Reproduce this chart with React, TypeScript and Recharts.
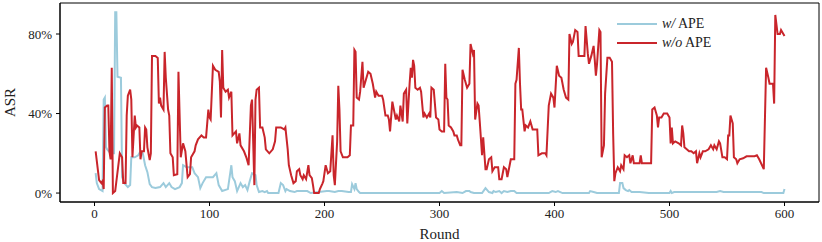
import React from 'react';
import { LineChart, Line, XAxis, YAxis, ReferenceArea } from 'recharts';

// [round, ASR %]
const withApe: [number, number][] = [
  [1, 10], [2, 5], [4, 2], [7, 1], [8, 47], [9, 48], [10, 23], [11, 22], [14, 20], [17, 20], [18, 91], [19, 91],
  [20, 58.5], [23, 58], [24, 8], [26, 5], [29, 3], [31, 4], [32, 18], [35, 18], [38, 19], [40, 21], [42, 20],
  [44, 14], [46, 10.5], [48, 4.5], [50, 3], [53, 2.5], [57, 3], [60, 5], [62, 3], [65, 5], [67, 3], [70, 2],
  [74, 3], [76, 5], [77, 14], [80, 13], [85, 13], [87, 10], [90, 8], [92, 2.5], [94, 5], [97, 8], [103, 8],
  [106, 10], [108, 4], [111, 1], [116, 2], [119, 14], [120, 8], [122, 6], [124, 1], [127, 5], [129, 3], [131, 4],
  [133, 1.5], [135, 6], [137, 10], [140, 9], [141, 4], [143, 0.5], [146, 1], [148, 0.5], [150, 1], [151, 0],
  [160, 0], [162, 5], [164, 4], [166, 1], [167, 2], [170, 1], [174, 0.5], [176, 1], [185, 1], [188, 0],
  [195, 0.5], [202, 1], [204, 1], [209, 0.5], [212, 1], [215, 1], [221, 0.5], [223, 0.5], [224, 4.5], [226, 2],
  [227, 5], [228, 2], [230, 0.5], [231, 0], [300, 0], [302, 1], [304, 0], [315, 0.5], [320, 0], [323, 1],
  [326, 1], [327, 0.5], [330, 0], [337, 0], [340, 2.5], [343, 0.5], [346, 0], [347, 1], [349, 0.5], [352, 1],
  [354, 0], [356, 1], [359, 0.5], [362, 1], [365, 1], [367, 0], [395, 0], [398, 1], [401, 0.5], [403, 1],
  [405, 0.5], [407, 0], [430, 0], [431, 1], [434, 0.5], [437, 0], [456, 0], [457, 5], [459, 5], [460, 2.5],
  [462, 1.5], [464, 1], [465, 1.5], [467, 0.5], [474, 0.5], [482, 0], [500, 0], [501, 1], [502, 0], [504, 0.5],
  [541, 0.5], [544, 1], [547, 0.5], [558, 0.5], [580, 0.5], [582, 0], [599, 0], [600, 2],
];

const withoutApe: [number, number][] = [
  [1, 21], [4, 6.5], [6, 5], [7, 6], [8, 2], [9, 43], [11, 44], [12, 44], [13, 21], [14, 17], [15, 63], [16, 0],
  [18, 1], [22, 20], [24, 18], [25, 5], [27, 5], [28, 39], [29, 49], [31, 52], [32, 47], [33, 18], [35, 39],
  [36, 33], [37, 34], [39, 33], [40, 17], [41, 21], [43, 21], [44, 33], [45, 32], [46, 23], [48, 16.6], [49, 20],
  [50, 69], [53, 69], [55, 68], [56, 45], [57, 48], [58, 44], [60, 42], [61, 71], [62, 58], [64, 42], [65, 39],
  [66, 20], [68, 18], [69, 9], [72, 9.5], [73, 61], [75, 18], [77, 25], [79, 21], [81, 8], [83, 9.5], [84, 18],
  [87, 21], [88, 24], [90, 27], [93, 29], [95, 28], [97, 28], [99, 42], [100, 38], [101, 37], [103, 64],
  [105, 62], [108, 61], [109, 56], [110, 38], [111, 72], [112, 53], [114, 51], [116, 52], [117, 48], [119, 51],
  [120, 29], [123, 31], [124, 25], [126, 30], [127, 24], [130, 21], [132, 18], [134, 14], [136, 44], [137, 47],
  [139, 4], [140, 47], [141, 52], [143, 53], [144, 33], [146, 33], [148, 28], [149, 22], [152, 20], [155, 22],
  [157, 26], [158, 33], [162, 33], [165, 32], [166, 33], [168, 22], [169, 14], [171, 9], [173, 5], [175, 6],
  [176, 11], [178, 12], [179, 9], [181, 7], [182, 9], [184, 7], [186, 14], [187, 9], [189, 7.5], [190, 4],
  [191, 0], [195, 0], [196, 2], [198, 4.5], [199, 6], [201, 14], [203, 10], [205, 11], [207, 29], [208, 9],
  [209, 4], [211, 26], [212, 54], [213, 42], [214, 21], [216, 18], [220, 18], [222, 19], [223, 34], [225, 34],
  [226, 72], [227, 71], [228, 48], [230, 47], [231, 51], [233, 66], [234, 53], [236, 57], [238, 61], [240, 60],
  [242, 55], [244, 48], [245, 51], [247, 49], [250, 49], [251, 47], [253, 39], [255, 39], [256, 37], [257, 31],
  [259, 46], [260, 43], [262, 37], [263, 39], [265, 36], [266, 44], [268, 36], [269, 50], [271, 52], [272, 35],
  [274, 55], [275, 63], [276, 58], [277, 67], [278, 64], [279, 53], [281, 52], [283, 53], [284, 51], [286, 38],
  [287, 40], [289, 38], [291, 40], [292, 38], [293, 53], [295, 52], [297, 38], [299, 37], [300, 32], [302, 31],
  [304, 31], [305, 65], [306, 48], [307, 47], [308, 34], [310, 33], [312, 31], [313, 29], [315, 29], [316, 27],
  [318, 24], [319, 24], [320, 62], [322, 57], [324, 53], [326, 55], [327, 75], [329, 70], [330, 72], [331, 37],
  [333, 45], [334, 44], [335, 36], [337, 19], [338, 28], [340, 12], [341, 12], [343, 17], [345, 18], [346, 11],
  [348, 13], [351, 13], [352, 7], [354, 7], [356, 13], [358, 12], [359, 8], [361, 14], [362, 17], [365, 17],
  [366, 55], [367, 57], [369, 73], [370, 55], [371, 42], [372, 42], [374, 31], [375, 34], [377, 33], [379, 36],
  [381, 32], [385, 32], [386, 19], [389, 20], [392, 20], [393, 19], [395, 44], [397, 50], [399, 48], [400, 43],
  [402, 64], [404, 59], [406, 58], [408, 52], [410, 48], [412, 47], [413, 80], [415, 75], [416, 76], [418, 82],
  [420, 81], [421, 69], [426, 69], [427, 84], [429, 70], [430, 65], [432, 69], [434, 74], [435, 67], [436, 59],
  [437, 65], [439, 82], [440, 81], [441, 18], [443, 24], [444, 50], [446, 68], [448, 68], [450, 66], [451, 30],
  [452, 6], [453, 10], [455, 13], [457, 11], [458, 14], [460, 12], [461, 19], [463, 18], [465, 19], [466, 15],
  [468, 19], [469, 15], [474, 15], [475, 19], [476, 15], [484, 15], [485, 42], [487, 43], [489, 39], [490, 33],
  [491, 38], [493, 38], [495, 40], [498, 40], [500, 38], [501, 25], [502, 33], [503, 25], [505, 26], [508, 25],
  [510, 24], [511, 34], [512, 30], [513, 23], [515, 22], [517, 21], [519, 21], [521, 20], [523, 21], [524, 15],
  [526, 20], [527, 18], [529, 21], [531, 21], [534, 22], [536, 24], [538, 22], [539, 24], [541, 22], [543, 26],
  [544, 25], [546, 18], [548, 18], [550, 17], [551, 29], [552, 29], [553, 39], [555, 35], [556, 18], [558, 17],
  [559, 15], [561, 17], [564, 17.5], [567, 18.5], [574, 18.5], [576, 19], [578, 17], [582, 12], [584, 63],
  [586, 58], [587, 55], [590, 55], [591, 45], [592, 89.6], [594, 80], [596, 80], [597, 82], [599, 80], [600, 79],
];

const xTicks = [0, 100, 200, 300, 400, 500, 600];
const yTicks = [0, 40, 80];

const BLUE = '#9ccbdc';
const RED = '#c9252b';

// merge both series on round
const byRound = new Map<number, { round: number; ape?: number; noApe?: number }>();
withApe.forEach(([r, v]) => byRound.set(r, { ...(byRound.get(r) || { round: r }), ape: v }));
withoutApe.forEach(([r, v]) => byRound.set(r, { ...(byRound.get(r) || { round: r }), noApe: v }));
const data = Array.from(byRound.values()).sort((a, b) => a.round - b.round);

const legendItems = [
  { color: BLUE, head: 'w/', tail: ' APE' },
  { color: RED, head: 'w/o', tail: ' APE' },
];

const tickStyle = { fontSize: 13, fill: '#222', fontFamily: 'Liberation Serif' };

export default function App() {
  return (
    <div style={{ position: 'absolute', left: 0, top: 0, width: 822, height: 242, fontFamily: 'Liberation Serif' }}>
      <LineChart width={822} height={242} data={data} margin={{ top: 3, right: 3, bottom: 0, left: 0 }}>
        <XAxis
          dataKey="round"
          type="number"
          domain={[-30, 630]}
          ticks={xTicks}
          allowDataOverflow
          height={40}
          tick={tickStyle}
          tickSize={4}
          tickMargin={3}
          stroke="#000"
          label={{ value: 'Round', position: 'insideBottom', offset: 3, style: { fontSize: 15, fill: '#222' } }}
        />
        <YAxis
          type="number"
          domain={[-4.5, 95.6]}
          ticks={yTicks}
          allowDataOverflow
          width={60}
          tick={tickStyle}
          tickSize={4}
          tickMargin={4}
          stroke="#000"
          tickFormatter={(v: number) => `${v}%`}
          label={{ value: 'ASR', angle: -90, position: 'insideLeft', offset: 10, style: { fontSize: 15, fill: '#222', textAnchor: 'middle' } }}
        />
        <Line type="linear" dataKey="ape" stroke={BLUE} strokeWidth={2} dot={false} connectNulls isAnimationActive={false} />
        <Line type="linear" dataKey="noApe" stroke={RED} strokeWidth={2} dot={false} connectNulls isAnimationActive={false} />
        <ReferenceArea x1={-30} x2={630} y1={-4.5} y2={95.6} fill="none" stroke="#000" strokeWidth={1} ifOverflow="visible" />
      </LineChart>
      <div style={{ position: 'absolute', left: 617, top: 14, fontSize: 14, color: '#222', lineHeight: '19px' }}>
        {legendItems.map((item) => (
          <div key={item.head} style={{ display: 'flex', alignItems: 'center' }}>
            <svg width={42} height={10}>
              <line x1={0} y1={5} x2={40} y2={5} stroke={item.color} strokeWidth={2} />
            </svg>
            <span style={{ marginLeft: 3 }}>
              <i>{item.head}</i>
              {item.tail}
            </span>
          </div>
        ))}
      </div>
    </div>
  );
}
